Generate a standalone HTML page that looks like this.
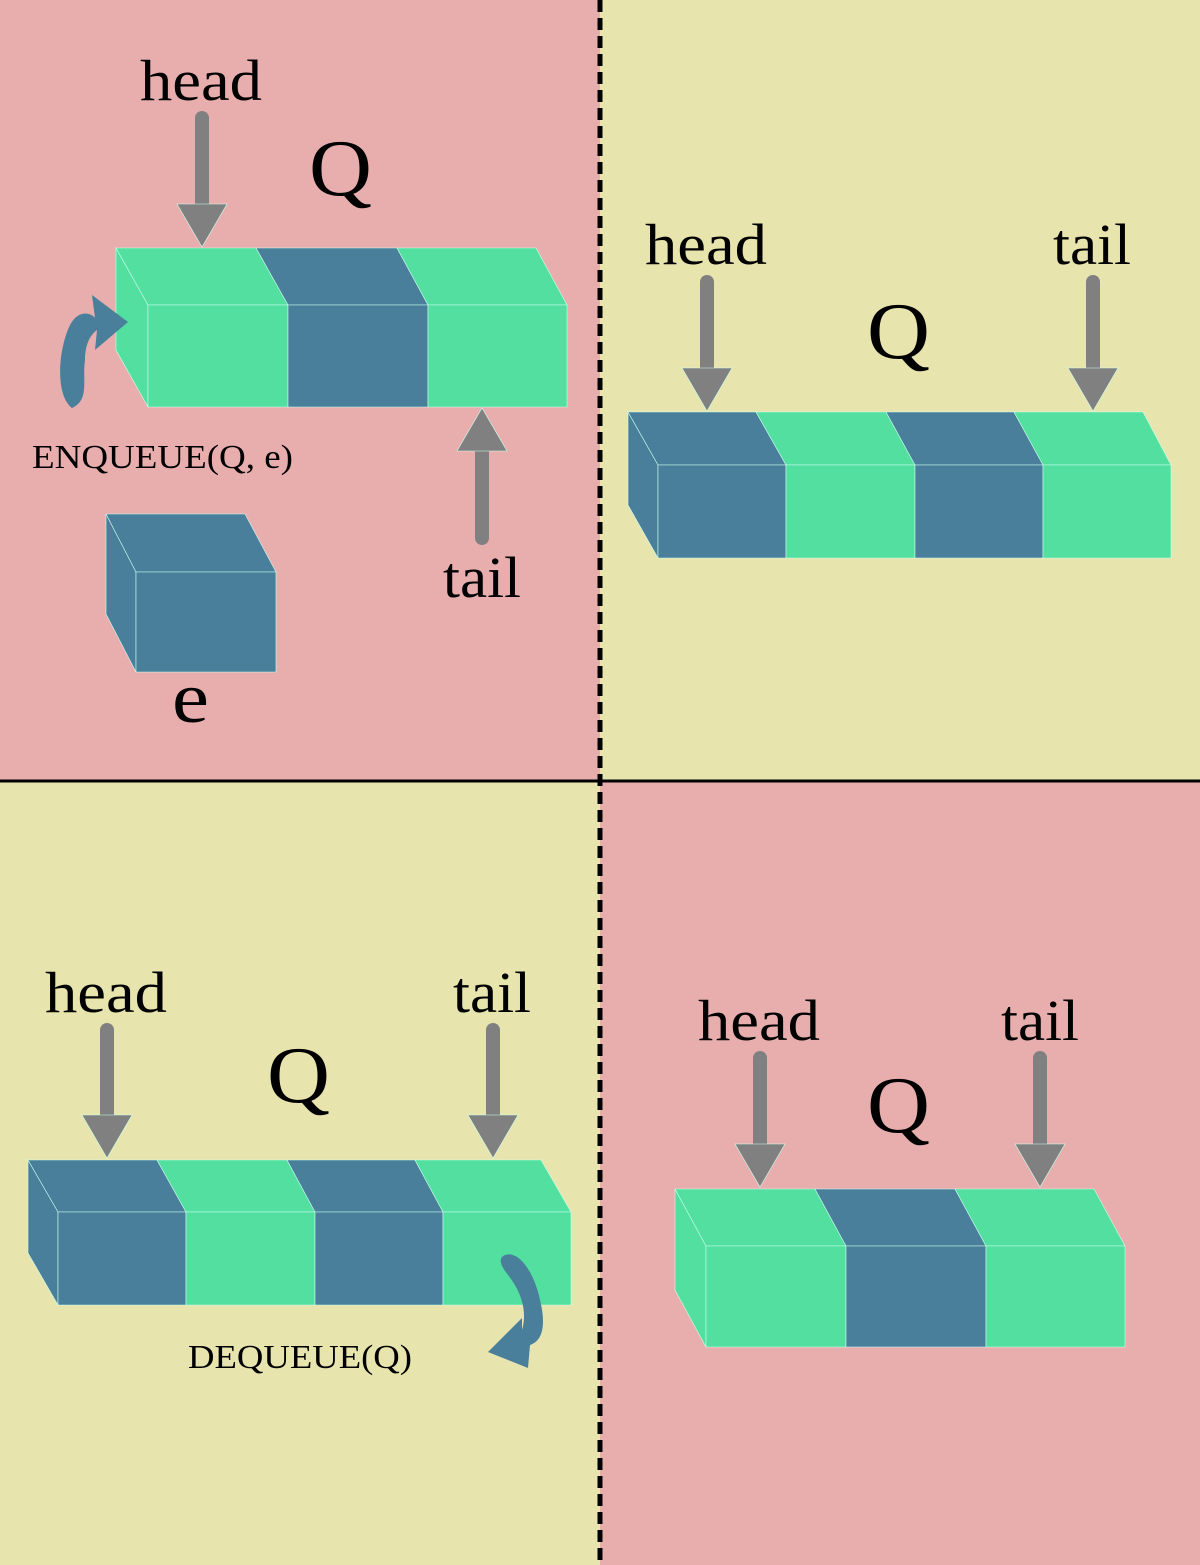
<!DOCTYPE html>
<html><head><meta charset="utf-8"><style>
html,body{margin:0;padding:0;width:1200px;height:1565px;overflow:hidden}
text{font-family:"Liberation Serif",serif;fill:#000}
</style></head><body>
<svg width="1200" height="1565" viewBox="0 0 1200 1565">
<rect x="0" y="0" width="600" height="781" fill="#e8aeae"/>
<rect x="600" y="0" width="600" height="781" fill="#e8e4ae"/>
<rect x="0" y="781" width="600" height="784" fill="#e8e4ae"/>
<rect x="600" y="781" width="600" height="784" fill="#e8aeae"/>
<line x1="0" y1="781" x2="1200" y2="781" stroke="#000" stroke-width="3"/>
<line x1="600" y1="0" x2="600" y2="1565" stroke="#000" stroke-width="5" stroke-dasharray="12,6"/>
<g id="shapes"></g>
<text x="140" y="100" font-size="58" textLength="122" lengthAdjust="spacingAndGlyphs">head</text>
<text x="309" y="195" font-size="80" textLength="63" lengthAdjust="spacingAndGlyphs">Q</text>
<text x="32" y="468" font-size="34" textLength="261" lengthAdjust="spacingAndGlyphs">ENQUEUE(Q, e)</text>
<text x="443" y="597" font-size="58" textLength="78" lengthAdjust="spacingAndGlyphs">tail</text>
<text x="172" y="722" font-size="72" textLength="37" lengthAdjust="spacingAndGlyphs">e</text>
<text x="645" y="264" font-size="58" textLength="122" lengthAdjust="spacingAndGlyphs">head</text>
<text x="1053" y="264" font-size="58" textLength="78" lengthAdjust="spacingAndGlyphs">tail</text>
<text x="867" y="358" font-size="80" textLength="63" lengthAdjust="spacingAndGlyphs">Q</text>
<text x="45" y="1012" font-size="58" textLength="122" lengthAdjust="spacingAndGlyphs">head</text>
<text x="453" y="1012" font-size="58" textLength="78" lengthAdjust="spacingAndGlyphs">tail</text>
<text x="267" y="1102" font-size="80" textLength="63" lengthAdjust="spacingAndGlyphs">Q</text>
<text x="188" y="1368" font-size="34" textLength="224" lengthAdjust="spacingAndGlyphs">DEQUEUE(Q)</text>
<text x="698" y="1040" font-size="58" textLength="122" lengthAdjust="spacingAndGlyphs">head</text>
<text x="1001" y="1040" font-size="58" textLength="78" lengthAdjust="spacingAndGlyphs">tail</text>
<text x="867" y="1132" font-size="80" textLength="63" lengthAdjust="spacingAndGlyphs">Q</text>
<path d="M72,408 C55,395 58,350 70,325 C78,310 90,312 95,318 L92,295 L128,322 L95,350 L97,330 C90,335 85,345 85,360 C82,380 90,400 72,408 Z" fill="#4a7f9c"/>
<path d="M505,1255 C520,1250 535,1275 540,1300 C545,1320 545,1340 530,1345 L528,1368 L488,1352 L522,1318 L522,1330 C528,1310 520,1290 508,1275 C500,1265 498,1258 505,1255 Z" fill="#4a7f9c"/>
</svg>
<script>
const G='#52df9f',B='#4a7f9c',NS='http://www.w3.org/2000/svg';
const g=document.getElementById('shapes');
function poly(pts,fill,name){const p=document.createElementNS(NS,'polygon');p.setAttribute('points',pts.map(a=>a.join(',')).join(' '));p.setAttribute('fill',fill);p.setAttribute('stroke','#cfe');p.setAttribute('stroke-width','0.6');


g.appendChild(p);}
function queue(topXs,frontXs,yT,yF,yB,colors,name){
 poly([[topXs[0],yT],[frontXs[0],yF],[frontXs[0],yB],[topXs[0],yB-(yF-yT)]],colors[0],name+'-side');
 for(let i=0;i<colors.length;i++){
  poly([[topXs[i],yT],[topXs[i+1],yT],[frontXs[i+1],yF],[frontXs[i],yF]],colors[i],name+'-cell-'+i+'-top');
  poly([[frontXs[i],yF],[frontXs[i+1],yF],[frontXs[i+1],yB],[frontXs[i],yB]],colors[i],name+'-cell-'+i+'-front');
 }
}
queue([116,256,397,536],[148,288,428,567],248,305,407,[G,B,G],'queue-1');
queue([628,756,886,1014,1143],[658,786,915,1043,1171],412,465,558,[B,G,B,G],'queue-2');
queue([28,157,287,415,541],[58,186,315,443,571],1160,1212,1305,[B,G,B,G],'queue-3');
queue([675,815,955,1094],[706,846,986,1125],1189,1246,1347,[G,B,G],'queue-4');
queue([106,245],[136,276],514,572,672,[B],'element-cube');
function arrow(x,y1,tip,name){
 const dir=tip>y1?1:-1,base=tip-dir*43;
 const l=document.createElementNS(NS,'line');l.setAttribute('x1',x);l.setAttribute('x2',x);l.setAttribute('y1',y1);l.setAttribute('y2',base);
 l.setAttribute('stroke','#808080');l.setAttribute('stroke-width','14');l.setAttribute('stroke-linecap','round');
 
 
 g.appendChild(l);
 poly([[x-25,base],[x+25,base],[x,tip]],'#808080',name+'-head');
}
arrow(202,118,247,'head-arrow-1');
arrow(482,538,408,'tail-arrow-1');
arrow(707,282,411,'head-arrow-2');
arrow(1093,282,411,'tail-arrow-2');
arrow(107,1030,1158,'head-arrow-3');
arrow(493,1030,1158,'tail-arrow-3');
arrow(760,1058,1187,'head-arrow-4');
arrow(1040,1058,1187,'tail-arrow-4');
</script>
</body></html>
